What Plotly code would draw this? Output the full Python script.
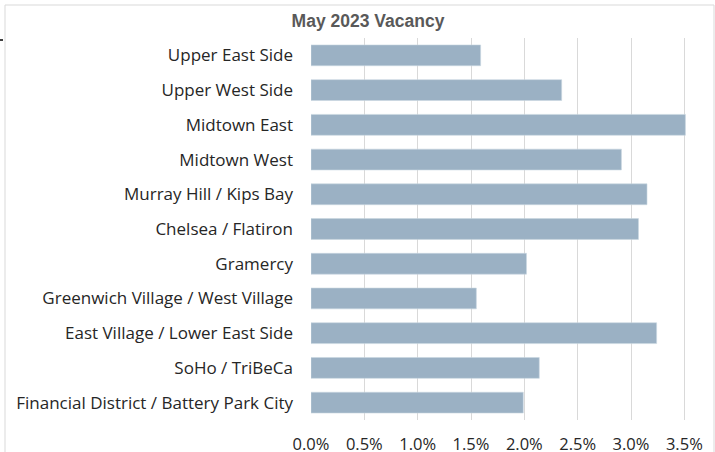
import plotly.graph_objects as go

neighborhoods = [
    "Upper East Side",
    "Upper West Side",
    "Midtown East",
    "Midtown West",
    "Murray Hill / Kips Bay",
    "Chelsea / Flatiron",
    "Gramercy",
    "Greenwich Village / West Village",
    "East Village / Lower East Side",
    "SoHo / TriBeCa",
    "Financial District / Battery Park City",
]
vacancy = [0.0159, 0.0235, 0.0351, 0.0291, 0.0315, 0.0307, 0.0202, 0.0155, 0.0324, 0.0214, 0.0199]
tick_start, tick_step = 0.0, 0.005
title_text = "May 2023 Vacancy"

W, H = 715, 452
L, R, T, B = 311, 15, 38, 32
pw, ph = W - L - R, H - T - B

def px(x):
    return (x - L) / pw

def py(y):
    return (H - B - y) / ph

fig = go.Figure(go.Bar(
    x=vacancy,
    y=neighborhoods,
    orientation="h",
    marker=dict(color="#9bb1c4", line=dict(color="#c9d6e1", width=0.6)),
    hoverinfo="x+y",
))

fig.update_layout(
    width=W, height=H,
    margin=dict(l=L, r=R, t=T, b=B, autoexpand=False),
    paper_bgcolor="white",
    plot_bgcolor="white",
    bargap=0.4,
    showlegend=False,
    font=dict(family="'Open Sans', Lato, sans-serif", size=16, color="#262626"),
    title=dict(
        text="<b>" + title_text + "</b>",
        x=px(368), xref="paper", xanchor="center",
        y=1 - 21 / H, yref="container", yanchor="middle",
        font=dict(family="'Liberation Sans', Arial, sans-serif", size=17.5, color="#595959"),
    ),
    xaxis=dict(
        range=[0, (W - R - L) / 106.67 / 100],
        tickmode="linear",
        tick0=tick_start,
        dtick=tick_step,
        tickformat=".1%",
        showgrid=True,
        gridcolor="#d9d9d9",
        gridwidth=1.3,
        zeroline=False,
        showline=False,
        ticks="",
        ticklabelstandoff=12,
        tickfont=dict(size=16.5),
        fixedrange=True,
    ),
    yaxis=dict(
        categoryorder="array",
        categoryarray=neighborhoods,
        autorange="reversed",
        showgrid=False,
        zeroline=False,
        showline=False,
        ticks="",
        ticklabelstandoff=17,
        tickfont=dict(size=17),
        fixedrange=True,
    ),
    shapes=[
        dict(type="rect", xref="paper", yref="paper",
             x0=px(5), x1=px(714), y0=py(470), y1=py(5),
             line=dict(color="#d9d9d9", width=1), fillcolor="rgba(0,0,0,0)", layer="below"),
        dict(type="line", xref="paper", yref="paper",
             x0=px(0), x1=px(3), y0=py(40), y1=py(40),
             line=dict(color="black", width=1.5)),
    ],
)

fig.write_html(
    "out.html",
    config={"displayModeBar": False},
    post_script="document.body.style.margin='0';document.body.style.overflow='hidden';",
)
